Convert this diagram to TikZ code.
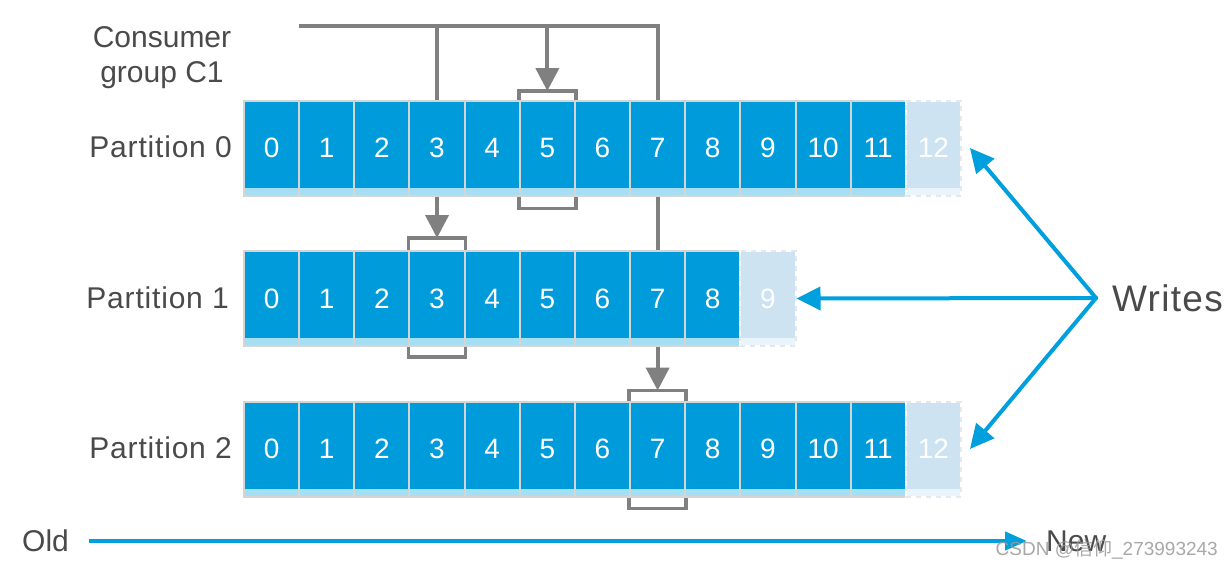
\documentclass[tikz,border=0pt]{standalone}
\usepackage{fontspec}
\setmainfont{Liberation Sans}
\newfontfamily\cjk{Noto Sans CJK SC}
\usetikzlibrary{arrows.meta,calc}
\definecolor{kblue}{HTML}{009BDB}
\definecolor{kstrip}{HTML}{A6DFF4}
\definecolor{kborder}{HTML}{D5D5D5}
\definecolor{kghost}{HTML}{CDE3F2}
\definecolor{kghoststrip}{HTML}{EAF4FB}
\definecolor{kghostdash}{HTML}{E2EAF0}
\definecolor{kgray}{HTML}{808080}
\definecolor{ktext}{HTML}{4A4A4A}
\definecolor{karrow}{HTML}{009FDD}
\begin{document}
\begin{tikzpicture}[x=1pt,y=-1pt,
  cellbase/.style={line width=2pt, minimum width=55.15pt, minimum height=95pt,
    inner sep=0pt, text=white, font=\fontsize{28}{30}\selectfont, anchor=north west},
  cell/.style={cellbase, draw=kborder, fill=kblue,
    path picture={\fill[kstrip] (path picture bounding box.south west) rectangle ([yshift=8pt]path picture bounding box.south east);}},
  ghost/.style={cellbase, draw=white, fill=kghost,
    path picture={\fill[kghoststrip] (path picture bounding box.south west) rectangle ([yshift=8pt]path picture bounding box.south east);},
    postaction={draw=kghostdash, dash pattern=on 5pt off 5pt}},
  label/.style={text=ktext, font=\fontsize{30}{35}\selectfont, inner sep=0pt},
  plabel/.style={label, font=\fontsize{30}{35}\selectfont\addfontfeature{LetterSpace=2.7}},
  gline/.style={draw=kgray, line width=4pt},
  garrow/.style={gline, -{Triangle[length=23pt,width=23pt]}},
  bracket/.style={draw=kgray, line width=3.5pt},
  barrow/.style={draw=karrow, line width=4pt, line cap=round, -{Triangle[length=24pt,width=23pt]}},
  tarrow/.style={draw=karrow, line width=4.5pt, -{Triangle[length=22pt,width=18pt]}}]
\useasboundingbox (0,0) rectangle (1232,568);
\fill[white] (0,0) rectangle (1232,568);

% partitions
\foreach \row/\last/\gh in {0/11/12, 1/8/9, 2/11/12} {
  \foreach \col in {0,...,\last}
    \node[cell] (p\row c\col) at ({243+55.15*\col},{99.5+150.5*\row}) {\col};
  \node[ghost] (p\row c\gh) at ({243+55.15*\gh},{99.5+150.5*\row}) {\gh};
}

% labels
\node[label, align=center, anchor=north] (cg) at (162,26.5) {Consumer\\group C1};
\node[plabel, anchor=east] (l0) at (232,147) {Partition 0};
\node[plabel, anchor=east] (l1) at (229,297.5) {Partition 1};
\node[plabel, anchor=east] (l2) at (232,448) {Partition 2};

% brackets
\draw[bracket] (p0c5.north west) -- ++(0,-8.5) -| (p0c5.north east);
\draw[bracket] (p0c5.south west) -- ++(0,12) -| (p0c5.south east);
\draw[bracket] (p1c3.north west) -- ++(0,-12) -| (p1c3.north east);
\draw[bracket] (p1c3.south west) -- ++(0,10) -| (p1c3.south east);
\draw[bracket] (p2c7.north west) -- ++(0,-10) -| (p2c7.north east);
\draw[bracket] (p2c7.south west) -- ++(0,11) -| (p2c7.south east);
\coordinate (b0) at ($(p0c5.north)+(0,-8.5)$);
\coordinate (b1) at ($(p1c3.north)+(0,-12)$);
\coordinate (b2) at ($(p2c7.north)+(0,-10)$);

% consumer group lines
\coordinate (c0) at (299,26);
\draw[gline] (c0) -| (p0c7.north);
\draw[gline] (p0c3.north |- c0) -- (p0c3.north);
\draw[garrow] (p0c5.north |- c0) -- (b0);
\draw[garrow] (p0c3.south) -- (b1);
\draw[gline] (p0c7.south) -- (p1c7.north);
\draw[garrow] (p1c7.south) -- (b2);

% writes
\coordinate (w) at (1096,298);
\node[text=ktext, font=\fontsize{37}{40}\selectfont\addfontfeature{LetterSpace=3.5}, anchor=west, inner sep=0pt] (wr) at (1112,298) {Writes};
\draw[barrow] (w) -- ([xshift=8pt]p0c12.east);
\draw[barrow] (w) -- (p1c9.east);
\draw[barrow] (w) -- ([xshift=8pt]p2c12.east);

% old -> new
\node[label, anchor=west] (old) at (22,541) {Old};
\node[label, anchor=west] (new) at (1046,541) {New};
\draw[tarrow, shorten <=20pt, shorten >=19pt] (old.east) -- (new.west);

% watermark
\node[text=black!40, font=\fontsize{19}{20}\selectfont, anchor=east, inner sep=0pt, opacity=0.85] (wm) at (1218,549) {CSDN @{\cjk 信仰}\_273993243};
\end{tikzpicture}
\end{document}
